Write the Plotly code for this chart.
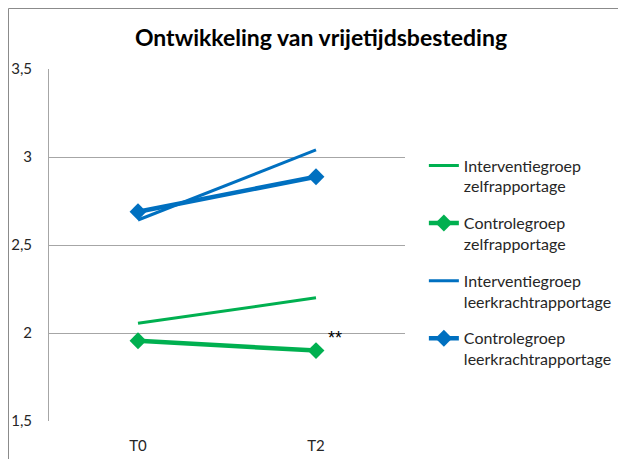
import plotly.graph_objects as go

categories = ["T0", "T2"]
interventie_zelf = [2.055, 2.20]
controle_zelf = [1.956, 1.90]
interventie_leerkracht = [2.642, 3.04]
controle_leerkracht = [2.689, 2.888]
y_ticks = [1.5, 2, 2.5, 3, 3.5]
y_tick_labels = ["1,5", "2", "2,5", "3", "3,5"]

GREEN = "#00B050"
BLUE = "#0070C0"
FONT = "Lato, 'Open Sans', sans-serif"

fig = go.Figure()
fig.add_trace(go.Scatter(x=categories, y=interventie_zelf, mode="lines",
                         name="Interventiegroep<br>zelfrapportage", legendgroup="a",
                         line=dict(color=GREEN, width=3)))
fig.add_trace(go.Scatter(x=categories, y=controle_zelf, mode="lines+markers",
                         name="Controlegroep<br>zelfrapportage", legendgroup="b",
                         line=dict(color=GREEN, width=4.5),
                         marker=dict(symbol="diamond", size=13, color=GREEN)))
fig.add_trace(go.Scatter(x=categories, y=interventie_leerkracht, mode="lines",
                         name="Interventiegroep<br>leerkrachtrapportage", legendgroup="c",
                         line=dict(color=BLUE, width=3)))
fig.add_trace(go.Scatter(x=categories, y=controle_leerkracht, mode="lines+markers",
                         name="Controlegroep<br>leerkrachtrapportage", legendgroup="d",
                         line=dict(color=BLUE, width=4.5),
                         marker=dict(symbol="diamond", size=13, color=BLUE)))

fig.add_annotation(x="T2", y=controle_zelf[1], text="**", showarrow=False,
                   xshift=19, yshift=13,
                   font=dict(size=18, color="black", family="Liberation Sans, Arial, sans-serif"))

# outer chart border
fig.add_shape(type="rect", xref="paper", yref="paper",
              x0=-0.1138, x1=2.0, y0=-0.5, y1=1.1719,
              line=dict(color="#8a8a8a", width=1), fillcolor="rgba(0,0,0,0)", layer="below")

fig.update_layout(
    width=626, height=459,
    margin=dict(l=41, r=229, t=61, b=46, autoexpand=False),
    paper_bgcolor="white", plot_bgcolor="white",
    separators=",.",
    font=dict(family=FONT, size=15, color="#262626"),
    title=dict(text="<b>Ontwikkeling van vrijetijdsbesteding</b>", xref="container",
               x=0.5, xanchor="center", yref="container",
               y=0.935, yanchor="middle", font=dict(size=23, color="black", family=FONT)),
    legend=dict(x=1.053, xanchor="left", y=0.774, yanchor="top", valign="top",
                font=dict(size=16, color="#262626", family=FONT),
                tracegroupgap=13, traceorder="grouped", bgcolor="rgba(0,0,0,0)"),
    showlegend=True,
)
fig.update_xaxes(type="category", range=[-0.5, 1.5], showgrid=False, showline=False,
                 zeroline=False, ticks="", ticklen=0, automargin=False,
                 tickfont=dict(size=15, color="#262626"), ticklabelstandoff=14)
fig.update_yaxes(range=[1.5, 3.5], tickvals=y_ticks, ticktext=y_tick_labels,
                 showgrid=True, gridcolor="#a6a6a6", gridwidth=1, zeroline=False,
                 showline=True, linecolor="#a6a6a6", linewidth=1, mirror=False,
                 ticks="", ticklen=0, automargin=False,
                 tickfont=dict(size=15, color="#262626"), ticklabelstandoff=13)

fig.write_html("out.html")
